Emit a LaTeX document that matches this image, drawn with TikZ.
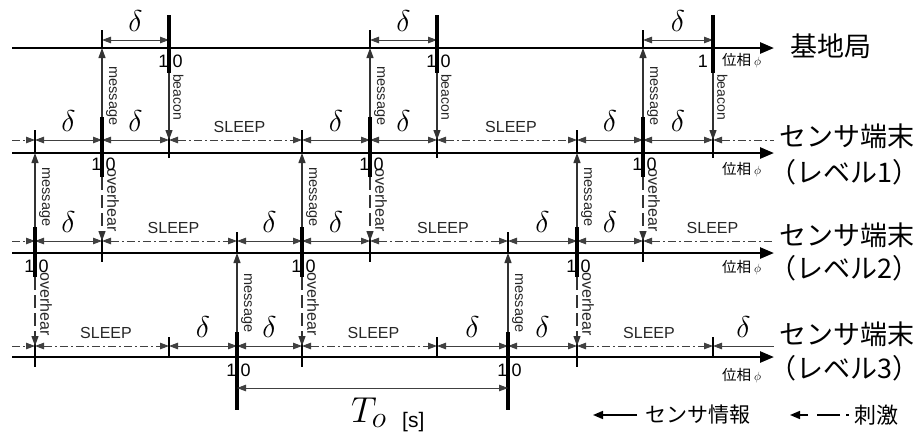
\documentclass[tikz,border=0pt]{standalone}
\usepackage{fontspec}
\setmainfont{Liberation Sans}
\newfontfamily\jp{Noto Sans CJK JP}
\usetikzlibrary{arrows.meta,calc}
\newcommand{\mydelta}{\scalebox{1.45}{$\delta$}}
\begin{document}
\begin{tikzpicture}[x=1pt,y=-1pt,
  >={Triangle[length=9pt,width=6.5pt]},
  axisline/.style={line width=2.6pt,-{Triangle[length=14pt,width=11pt]}},
  fireline/.style={line width=4.5pt},
  tickline/.style={line width=1.8pt},
  dimline/.style={line width=0.9pt,draw=black!75,<->},
  sleepline/.style={dimline,dash pattern=on 8pt off 3pt on 2pt off 3pt},
  msgline/.style={line width=1.1pt,draw=black!80,-{Triangle[length=10pt,width=7pt]}},
  ovhline/.style={msgline,dash pattern=on 13pt off 5pt},
  vlab/.style={rotate=-90,anchor=south,inner sep=1pt,text=black!85},
  dlab/.style={font=\fontsize{20.74}{21}\selectfont,above=8pt,inner sep=0pt},
  slab/.style={font=\fontsize{16}{16}\selectfont,text=black!85,above=7pt,xshift=4pt,inner sep=0pt},
  dig/.style={font=\fontsize{18}{18}\selectfont,inner sep=0pt},
  phase/.style={font=\jp\fontsize{14.5}{14.5}\selectfont,anchor=west,inner sep=0pt},
  nm/.style={font=\jp\fontsize{27}{27}\selectfont,anchor=west,inner sep=0pt},
]
\useasboundingbox (0,0) rectangle (918,432);

% grid coordinates
\foreach \k/\x in {0/35,1/102,2/169,3/237,4/302,5/370,6/437,7/508,8/577,9/643,10/713}{
  \coordinate (Bd-\k) at (\x,40);
  \coordinate (B-\k) at (\x,48);
  \coordinate (I1-\k) at (\x,140);
  \coordinate (A1-\k) at (\x,153);
  \coordinate (I2-\k) at (\x,241);
  \coordinate (A2-\k) at (\x,253);
  \coordinate (I3-\k) at (\x,346);
  \coordinate (A3-\k) at (\x,357);
  \coordinate (T-\k) at (\x,388);
}
\foreach \n/\y in {B/48,I1/140,A1/153,I2/241,A2/253,I3/346,A3/357}{
  \coordinate (\n-L) at (12,\y);
  \coordinate (\n-R) at (774,\y);
}
\foreach \k/\x in {2/169,6/437,10/713}{
  \coordinate (bc-top-\k) at (\x,15);
  \coordinate (bc-bot-\k) at (\x,73);
}
\foreach \k/\x in {1/102,5/370,9/643}{
  \coordinate (f1-top-\k) at (\x,117);
  \coordinate (f1-bot-\k) at (\x,177);
}
\foreach \k/\x in {0/35,4/302,8/577}{
  \coordinate (f2-top-\k) at (\x,227);
  \coordinate (f2-bot-\k) at (\x,277);
}
\foreach \k/\x in {3/237,7/508}{
  \coordinate (f3-top-\k) at (\x,332);
  \coordinate (f3-bot-\k) at (\x,410);
}

% axes
\foreach \n in {B,A1,A2,A3} \draw[axisline] (\n-L) -- (\n-R);

% base station dimension
\foreach \a/\b in {1/2,5/6,9/10}
  \draw[dimline] (Bd-\a) -- node[dlab]{\mydelta} (Bd-\b);

% level 1 intervals
\draw[sleepline,->] (I1-L) -- (I1-0);
\foreach \a/\b in {0/1,1/2,4/5,5/6,8/9,9/10}
  \draw[dimline] (I1-\a) -- node[dlab]{\mydelta} (I1-\b);
\foreach \a/\b in {2/4,6/8}
  \draw[sleepline] (I1-\a) -- node[slab]{SLEEP} (I1-\b);
\draw[sleepline,<-] (I1-10) -- (I1-R);

% level 2 intervals
\draw[sleepline,->] (I2-L) -- (I2-0);
\foreach \a/\b in {0/1,3/4,4/5,7/8,8/9}
  \draw[dimline] (I2-\a) -- node[dlab]{\mydelta} (I2-\b);
\foreach \a/\b in {1/3,5/7}
  \draw[sleepline] (I2-\a) -- node[slab]{SLEEP} (I2-\b);
\draw[sleepline,<-] (I2-9) -- node[slab]{SLEEP} (I2-R);

% level 3 intervals
\draw[sleepline,->] (I3-L) -- (I3-0);
\foreach \a/\b in {2/3,3/4,6/7,7/8}
  \draw[dimline] (I3-\a) -- node[dlab]{\mydelta} (I3-\b);
\foreach \a/\b in {0/2,4/6,8/10}
  \draw[sleepline] (I3-\a) -- node[slab]{SLEEP} (I3-\b);
\draw[dimline,<-] (I3-10) -- node[dlab]{\mydelta} (I3-R);

% ticks
\foreach \k in {1,5,9} \draw[tickline] ($(B-\k)+(0,-18)$) -- (B-\k);
\foreach \k in {0,4,8} \draw[tickline] ($(A1-\k)+(0,-23)$) -- (A1-\k);
\foreach \k in {2,6,10} \draw[tickline] ($(A1-\k)+(0,-22)$) -- ($(A1-\k)+(0,5)$);
\foreach \k in {1,5,9} \draw[tickline] ($(A2-\k)+(0,-20)$) -- ($(A2-\k)+(0,9)$);
\foreach \k in {3,7} \draw[tickline] ($(A2-\k)+(0,-21)$) -- (A2-\k);
\foreach \k in {0,4,8} \draw[tickline] ($(A3-\k)+(0,-20)$) -- ($(A3-\k)+(0,10)$);
\foreach \k in {2,6,10} \draw[tickline] ($(A3-\k)+(0,-20)$) -- (A3-\k);

% firing (phase 1 -> 0)
\foreach \k in {2,6,10} \draw[fireline] (bc-top-\k) -- (bc-bot-\k);
\foreach \k in {1,5,9} \draw[fireline] (f1-top-\k) -- (f1-bot-\k);
\foreach \k in {0,4,8} \draw[fireline] (f2-top-\k) -- (f2-bot-\k);
\foreach \k in {3,7} \draw[fireline] (f3-top-\k) -- (f3-bot-\k);

% connectors
\foreach \k in {1,5,9}{
  \draw[msgline] (f1-top-\k) -- (B-\k);
  \draw[ovhline] (f1-bot-\k) -- (I2-\k);
  \node[vlab,font=\fontsize{14.5}{14.5}\selectfont] at ($(B-\k)+(3,48)$) {message};
  \node[vlab,font=\fontsize{16}{16}\selectfont] at ($(A1-\k)+(4,47)$) {overhear};
}
\foreach \k in {2,6,10}{
  \draw[msgline] (bc-bot-\k) -- (I1-\k);
  \node[vlab,font=\fontsize{14}{14}\selectfont] at ($(B-\k)+(3,49)$) {beacon};
}
\foreach \k in {0,4,8}{
  \draw[msgline] (f2-top-\k) -- (A1-\k);
  \draw[ovhline] (f2-bot-\k) -- (I3-\k);
  \node[vlab,font=\fontsize{14.5}{14.5}\selectfont] at ($(A1-\k)+(3,44)$) {message};
  \node[vlab,font=\fontsize{16}{16}\selectfont] at ($(A2-\k)+(4,51)$) {overhear};
}
\foreach \k in {3,7}{
  \draw[msgline] (f3-top-\k) -- (A2-\k);
  \node[vlab,font=\fontsize{14.5}{14.5}\selectfont] at ($(A2-\k)+(3,50)$) {message};
}

% phase digits
\foreach \k in {2,6}{
  \node[dig,anchor=east] at ($(B-\k)+(-0.5,13)$) {1};
  \node[dig,anchor=west] at ($(B-\k)+(3.5,13)$) {0};
}
\node[dig,anchor=east] at ($(B-10)+(-5,13)$) {1};
\foreach \k in {1,5,9}{
  \node[dig,anchor=east] at ($(A1-\k)+(-0.5,11)$) {1};
  \node[dig,anchor=west] at ($(A1-\k)+(3.5,11)$) {0};
}
\foreach \k in {0,4,8}{
  \node[dig,anchor=east] at ($(A2-\k)+(-0.5,13)$) {1};
  \node[dig,anchor=west] at ($(A2-\k)+(3.5,13)$) {0};
}
\foreach \k in {3,7}{
  \node[dig,anchor=east] at ($(A3-\k)+(-0.5,13)$) {1};
  \node[dig,anchor=west] at ($(A3-\k)+(3.5,13)$) {0};
}

% phase axis labels
\node[phase] (phB) at (722,61) {位相\hspace{3pt}{\fontsize{12}{12}\selectfont$\phi$}};
\node[phase] (ph1) at (722,170) {位相\hspace{3pt}{\fontsize{12}{12}\selectfont$\phi$}};
\node[phase] (ph2) at (722,268) {位相\hspace{3pt}{\fontsize{12}{12}\selectfont$\phi$}};
\node[phase] (ph3) at (722,376) {位相\hspace{3pt}{\fontsize{12}{12}\selectfont$\phi$}};

% row names
\node[nm] (nB) at (790,46) {基地局};
\node[nm] (n1a) at (779,136) {センサ端末};
\node[nm] (n1b) at (769,172) {（レベル1）};
\node[nm] (n2a) at (779,235) {センサ端末};
\node[nm] (n2b) at (769,268) {（レベル2）};
\node[nm] (n3a) at (779,334) {センサ端末};
\node[nm] (n3b) at (769,368) {（レベル3）};

% period
\draw[dimline] (T-3) -- (T-7);
\node[anchor=base west,inner sep=0pt,font=\fontsize{24.88}{25}\selectfont] (To) at (351,422) {\scalebox{1.45}{$T_{o}$}};
\node[anchor=base west,inner sep=0pt,font=\fontsize{21}{21}\selectfont] (Tu) at (402,427) {[s]};

% legend
\coordinate (lg1a) at (637,415);
\coordinate (lg1b) at (593,415);
\draw[line width=1.6pt,-{Triangle[length=10pt,width=8pt]}] (lg1a) -- (lg1b);
\node[font=\jp\fontsize{21}{21}\selectfont,anchor=west,inner sep=0pt] (lgt1) at (645,415) {センサ情報};
\coordinate (lg2a) at (849,415);
\coordinate (lg2b) at (790,415);
\draw[line width=1.6pt,dash pattern=on 3pt off 6pt on 23pt off 9pt on 20pt,-{Triangle[length=10pt,width=8pt]}] (lg2a) -- (lg2b);
\node[font=\jp\fontsize{22}{22}\selectfont,anchor=west,inner sep=0pt] (lgt2) at (854,415) {刺激};
\end{tikzpicture}
\end{document}
